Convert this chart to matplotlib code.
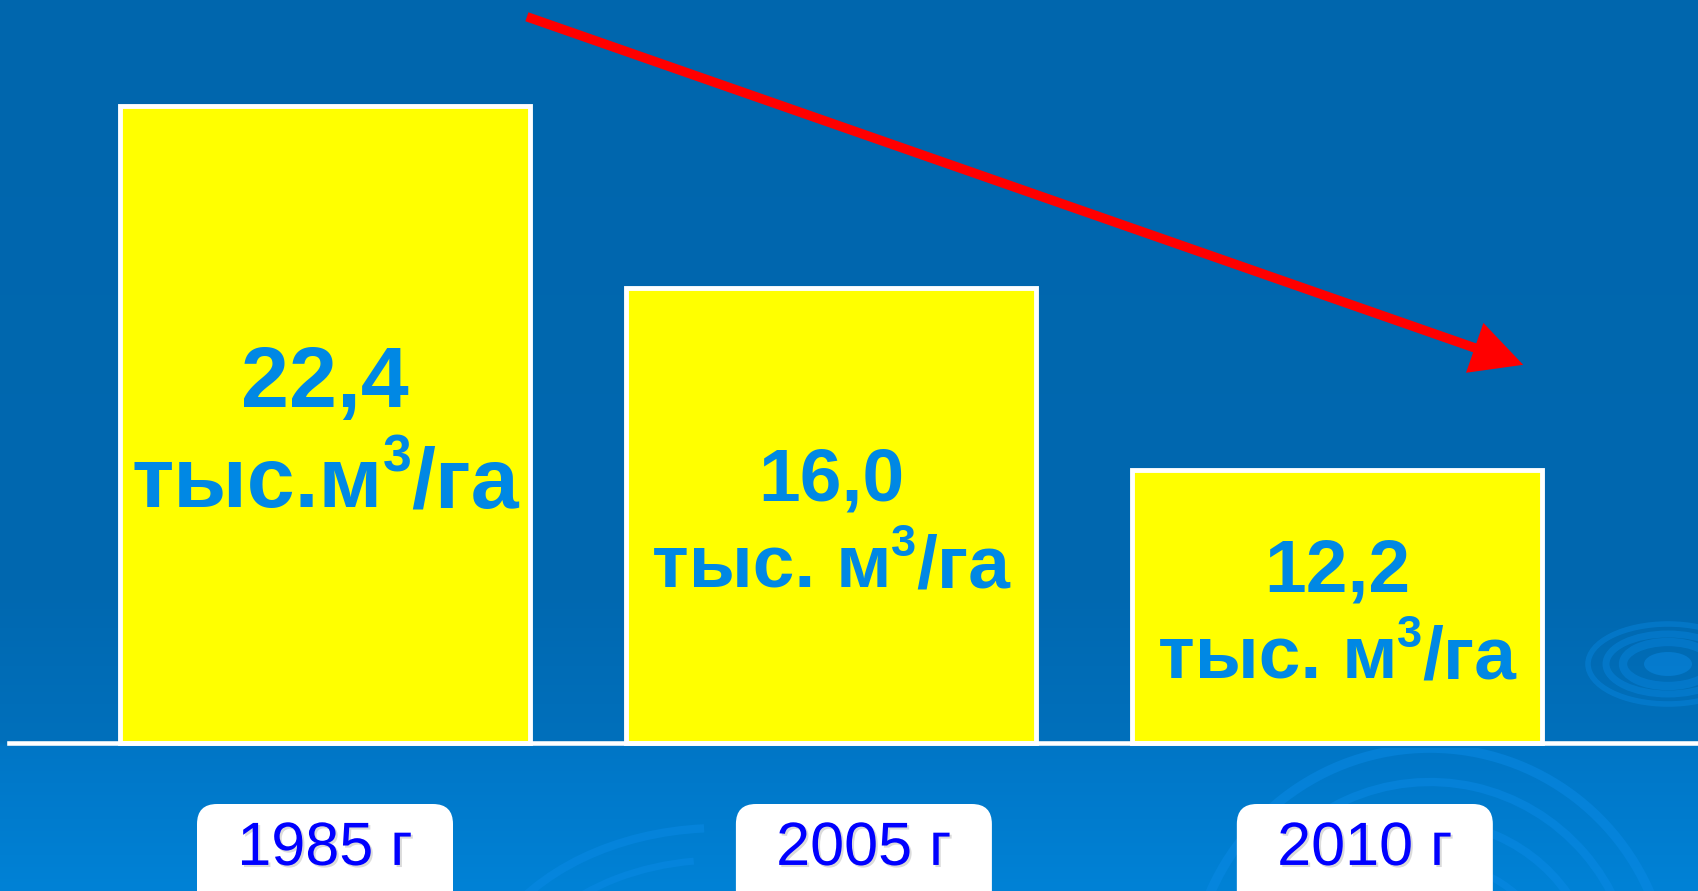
import numpy as np
import matplotlib.pyplot as plt
import matplotlib.patheffects as pe
from matplotlib.patches import FancyBboxPatch, Arc, Ellipse, Rectangle
from matplotlib.transforms import offset_copy

plt.rcParams['font.family'] = ['Liberation Sans', 'DejaVu Sans']

# data
years = ['1985 г', '2005 г', '2010 г']
values = [22.4, 16.0, 12.2]
value_labels = ['22,4', '16,0', '12,2']
unit_before = ['тыс.м', 'тыс. м', 'тыс. м']
unit_after = '/га'
# heights as drawn on the slide (the last bar is drawn shorter than its value)
bar_heights = [22.4, 16.0, 9.6]
label_sizes = [62, 54, 54]
year_shift = [0.0, 0.065, 0.055]

W, H, DPI = 1699, 891, 100
fig = plt.figure(figsize=(W / DPI, H / DPI), dpi=DPI)
ax = fig.add_axes([0, 0, 1, 1])
ax.set_xlim(-0.6423, 2.7154)
ax.set_ylim(-5.206, 26.13)
ax.axis('off')

# background gradient, rows from top to bottom
rows = np.arange(H)
stops = [0, 590, 742, 746, H]
r = np.interp(rows, stops, [0, 0, 0, 0, 0])
g = np.interp(rows, stops, [102, 104, 112, 118, 130])
b = np.interp(rows, stops, [173, 176, 188, 198, 214])
grad = np.stack([r, g, b], axis=1)[:, None, :] / 255.0
grad = np.repeat(grad, 2, axis=1)
ax.imshow(grad, extent=(*ax.get_xlim(), *ax.get_ylim()), aspect='auto', zorder=0)


def px(x, y):
    # pixel position (y from top) -> inches for dpi_scale_trans
    return x / DPI, (H - y) / DPI


# water ripples (only below the base line)
ripple = '#0a8ae6'
below = Rectangle((0, 0), W / DPI, (H - 748) / DPI, transform=fig.dpi_scale_trans)
rings = [(1430, 990, 240, 242, 15, 165, 7), (1430, 990, 205, 208, 5, 150, 6),
         (1430, 990, 168, 168, 30, 175, 6), (1430, 990, 130, 128, 0, 140, 5),
         (1430, 990, 95, 92, 40, 170, 5),
         (720, 1010, 250, 182, 95, 160, 6), (720, 1010, 215, 150, 100, 150, 5)]
for cx, cy, rx, ry, a1, a2, lw in rings:
    arc = Arc(px(cx, cy), rx * 2 / DPI, ry * 2 / DPI, theta1=a1, theta2=a2,
              transform=fig.dpi_scale_trans, color=ripple, lw=lw, alpha=0.5, zorder=1)
    ax.add_patch(arc)
    arc.set_clip_path(below)
for rx, ry, lw in [(80, 40, 4), (62, 30, 5), (45, 22, 6)]:
    ax.add_patch(Ellipse(px(1668, 664), rx * 2 / DPI, ry * 2 / DPI, fill=False,
                         transform=fig.dpi_scale_trans, ec=ripple, lw=lw, alpha=0.4, zorder=1))
ax.add_patch(Ellipse(px(1668, 664), 48 / DPI, 24 / DPI, transform=fig.dpi_scale_trans,
                     fc=ripple, ec='none', alpha=0.5, zorder=1))

# bars
x = np.arange(len(years))
ax.bar(x, bar_heights, width=0.812, color='#FFFF00', edgecolor='white', linewidth=3.5, zorder=3)
ax.axhline(0, xmin=9 / W, xmax=1, color='white', lw=3.3, zorder=4)

fig.canvas.draw()
renderer = fig.canvas.get_renderer()
blue = '#0088E4'
for i, h in enumerate(bar_heights):
    fs = label_sizes[i]
    mid = h / 2
    ax.text(i, mid + 0.0098 * fs, value_labels[i], ha='center', va='baseline',
            fontsize=fs, fontweight='bold', color=blue, zorder=5)
    # unit line: "тыс. м" + superscript 3 + "/га", centred on the bar
    y2 = mid - 0.047 * fs
    parts = [(unit_before[i], fs, 0), ('3', fs * 0.6, fs * 0.42), (unit_after, fs, 0)]
    texts, widths = [], []
    for s, size, rise in parts:
        t = ax.text(i, y2, s, ha='left', va='baseline', fontsize=size,
                    fontweight='bold', color=blue, zorder=5)
        texts.append((t, rise))
        widths.append(t.get_window_extent(renderer).width)
    dx = -sum(widths) / 2
    for (t, rise), wdt in zip(texts, widths):
        t.set_transform(offset_copy(ax.transData, fig=fig, x=dx, y=rise * DPI / 72, units='dots'))
        dx += wdt

# year labels in white rounded boxes
shadow = [pe.SimplePatchShadow(offset=(1.5, -1.5), shadow_rgbFace='#888888', alpha=0.3), pe.Normal()]
for i, year in enumerate(years):
    xi = i + year_shift[i]
    cx = ax.transData.transform((xi, 0))[0]
    box = FancyBboxPatch(((cx - 128) / DPI, -0.5), 256 / DPI, (H - 804) / DPI + 0.5,
                         boxstyle='round,pad=0,rounding_size=0.2',
                         transform=fig.dpi_scale_trans, fc='white', ec='none', zorder=5)
    ax.add_patch(box)
    ax.text(xi, -4.29, year, ha='center', va='baseline', fontsize=44,
            color='#0000FF', zorder=6, path_effects=shadow)

# red trend arrow
ax.annotate('', xy=(2.368, 13.30), xytext=(0.399, 25.54),
            arrowprops=dict(arrowstyle='simple,head_length=37,head_width=38,tail_width=6.8',
                            mutation_scale=1, color='#FF0000', lw=0, shrinkA=0, shrinkB=0),
            zorder=6)

fig.savefig('out.png', dpi=DPI)
